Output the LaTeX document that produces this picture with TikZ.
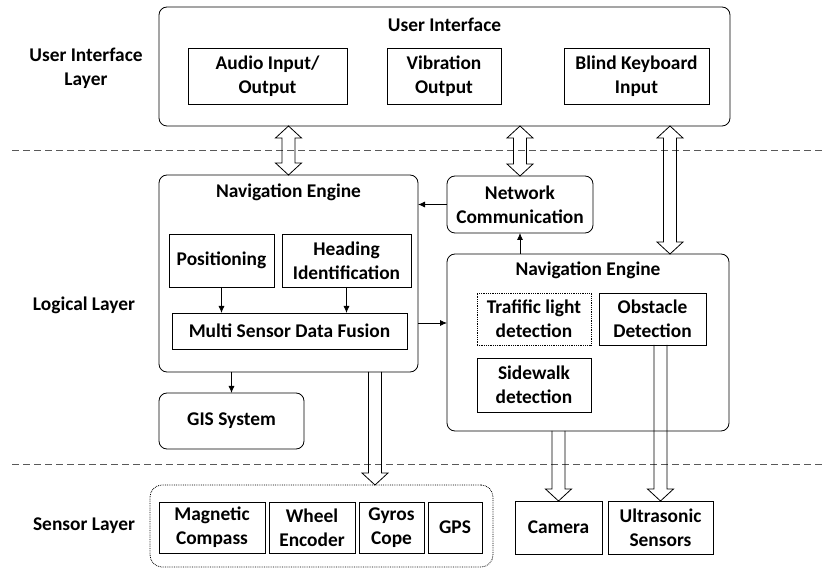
\documentclass[tikz,border=0pt]{standalone}
\usepackage{fontspec}
\setmainfont{Carlito}
\usepackage{tikz}
\usetikzlibrary{positioning,calc,arrows.meta}

% hollow arrows, drawn straight down from the x of #1
\newcommand\hollowdown[2]{%
  \draw[fatarrow] let \p1=(#1), \p2=(#2) in
    (\x1-6.5pt,\y1) -- (\x1-6.5pt,\y2+12pt) -- (\x1-13pt,\y2+12pt) -- (\x1,\y2)
    -- (\x1+13pt,\y2+12pt) -- (\x1+6.5pt,\y2+12pt) -- (\x1+6.5pt,\y1);}
\newcommand\hollowboth[2]{%
  \draw[fatarrow] let \p1=(#1), \p2=(#2) in
    (\x1,\y1) -- (\x1+13pt,\y1-12pt) -- (\x1+6.5pt,\y1-12pt) -- (\x1+6.5pt,\y2+12pt)
    -- (\x1+13pt,\y2+12pt) -- (\x1,\y2) -- (\x1-13pt,\y2+12pt) -- (\x1-6.5pt,\y2+12pt)
    -- (\x1-6.5pt,\y1-12pt) -- (\x1-13pt,\y1-12pt) -- cycle;}

\begin{document}
\begin{tikzpicture}[x=1pt, y=-1pt, line width=0.8pt, >={Latex[length=7pt,width=6pt]},
    every node/.style={font=\fontsize{19.4}{24}\selectfont\bfseries, align=center, inner sep=1pt, outer sep=0pt},
    box/.style={draw},
    group/.style={draw, rounded corners=8pt},
    sz/.style 2 args={minimum width=#1pt, minimum height=#2pt},
    fatarrow/.style={draw, line width=0.8pt},
    sep/.style={draw=black!65, line width=0.8pt, dash pattern=on 7pt off 4pt},
    node distance=4pt]
        \useasboundingbox (0,0) rectangle (823,569);

        % Layer borders
        \draw[sep] (12,150) -- (823,150);
        \draw[sep] (12,464) -- (823,464);

        % Layer names
        \node (uilayer) at (86,68) {User Interface\\Layer};
        \node (loglayer) at (84,305) {Logical Layer};
        \node (senlayer) at (84,526) {Sensor Layer};

        % User interface
        \node[group, sz={571}{119}] (ui) at (444.5,66.5) {};
        \node (uititle) at (444.5,25) {User Interface};
        \node[box, sz={159}{56}] (audio) at (267.5,76) {Audio Input/\\Output};
        \node[box, sz={114}{56}] (vibra) at (444,76) {Vibration\\Output};
        \node[box, sz={145}{56}] (keyb) at (636.5,76) {Blind Keyboard\\Input};

        % Left navigation engine
        \node[group, sz={259}{197}] (navl) at (288.5,273.5) {};
        \node (navltitle) at (288.5,192) {Navigation Engine};
        \node[box, sz={105}{53}] (posi) at (221.5,260.5) {Positioning};
        \node[box, sz={129}{53}] (head) at (346.5,260.5) {Heading\\Identification};
        \node[box, sz={235}{36}] (fusion) at (289.5,331) {Multi Sensor Data Fusion};
        \node[group, sz={145}{56}] (gis) at (231.5,421) {GIS System};

        % Right navigation engine
        \node[group, sz={146}{57}] (net) at (520,204.5) {Network\\Communication};
        \node[group, sz={282}{177}] (navr) at (588,342.5) {};
        \node (navrtitle) at (588,270) {Navigation Engine};
        \node[box, densely dotted, sz={114}{52}] (light) at (534,319) {Trafific light\\detection};
        \node[box, sz={107}{52}] (obst) at (652.5,319) {Obstacle\\Detection};
        \node[box, sz={114}{54}] (walk) at (534,385) {Sidewalk\\detection};

        % Sensors
        \node[group, densely dotted, rounded corners=12pt, sz={343}{82}] (sensors) at (321.5,526) {};
        \node[box, sz={106}{51}] (compass) at (212,527.5) {Magnetic\\Compass};
        \node[box, sz={86}{51}, right=of compass] (wheel) {Wheel\\Encoder};
        \node[box, sz={65}{51}, right=of wheel] (gyro) {Gyros\\Cope};
        \node[box, sz={54}{51}, right=of gyro] (gps) {GPS};
        \node[box, sz={87}{53}] (camera) at (558.5,527.5) {Camera};
        \node[box, sz={105}{53}, right=6pt of camera] (sonic) {Ultrasonic\\Sensors};

        % Plain arrows
        \draw[->] (posi.south) -- (posi.south |- fusion.north);
        \draw[->] (head.south) -- (head.south |- fusion.north);
        \draw[->] (net.west) -- (net.west -| navl.east);
        \draw[->] (navr.north -| net.south) -- (net.south);
        \coordinate (fuseout) at ($(navl.east)+(0,49.5)$);
        \draw[->] (fuseout) -- (fuseout -| navr.west);
        \draw[->] (navl.south -| gis.north) -- (gis.north);

        % Hollow arrows
        \coordinate (keyblink) at ($(navr.north east)+(-59,0)$);
        \coordinate (senslink) at ($(navl.south east)+(-43,0)$);
        \hollowboth{ui.south -| navl.north}{navl.north}
        \hollowboth{ui.south -| net.north}{net.north}
        \hollowboth{ui.south -| keyblink}{keyblink}
        \hollowdown{senslink}{sensors.north}
        \hollowdown{navr.south -| camera.north}{camera.north}
        \hollowdown{obst.south -| sonic.north}{sonic.north}
    \end{tikzpicture}
\end{document}
